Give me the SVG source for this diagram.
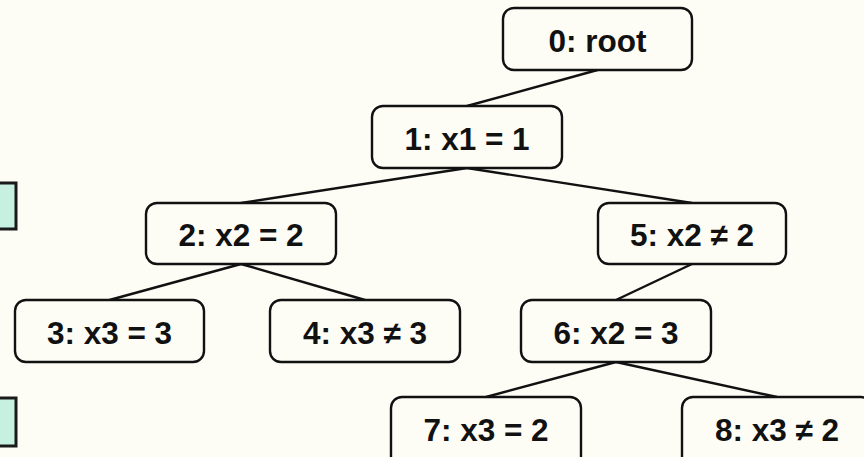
<svg xmlns="http://www.w3.org/2000/svg" width="864" height="457" viewBox="0 0 864 457">
<style>
.bg{fill:#FDFDF6}
.node rect{fill:#FDFDF6;stroke:#111;stroke-width:2.4}
.node text{font-family:"Liberation Sans",Arial,sans-serif;font-weight:bold;font-size:31.5px;fill:#111;text-anchor:middle}
.side{fill:#C6F0E0;stroke:#1a1a1a;stroke-width:3}
#connectors line{stroke:#111;stroke-width:2.4}
</style>
<rect class="bg" x="0" y="0" width="864" height="457"/>
<rect id="side1" class="side" x="-10" y="183" width="26" height="46"/>
<rect id="side2" class="side" x="-10" y="398" width="26" height="48"/>
<g id="connectors">
<line x1="597.5" y1="70" x2="467" y2="106"/>
<line x1="467" y1="168" x2="241" y2="203"/>
<line x1="467" y1="168" x2="692" y2="203"/>
<line x1="241" y1="264" x2="109.5" y2="300"/>
<line x1="241" y1="264" x2="365" y2="300"/>
<line x1="692" y1="264" x2="616" y2="300"/>
<line x1="616" y1="362" x2="486" y2="397"/>
<line x1="616" y1="362" x2="777" y2="397"/>
</g>
<g id="n0" class="node"><rect x="503" y="8" width="189" height="62" rx="11"/><text x="597.5" y="52">0: root</text></g>
<g id="n1" class="node"><rect x="372" y="106" width="190" height="62" rx="11"/><text x="467" y="150">1: x1 = 1</text></g>
<g id="n2" class="node"><rect x="146" y="203" width="190" height="61" rx="11"/><text x="241" y="246">2: x2 = 2</text></g>
<g id="n5" class="node"><rect x="598" y="203" width="188" height="61" rx="11"/><text x="692" y="246">5: x2 ≠ 2</text></g>
<g id="n3" class="node"><rect x="15" y="300" width="189" height="62" rx="11"/><text x="109.5" y="344">3: x3 = 3</text></g>
<g id="n4" class="node"><rect x="270" y="300" width="190" height="62" rx="11"/><text x="365" y="344">4: x3 ≠ 3</text></g>
<g id="n6" class="node"><rect x="521" y="300" width="190" height="62" rx="11"/><text x="616" y="344">6: x2 = 3</text></g>
<g id="n7" class="node"><rect x="391" y="397" width="190" height="72" rx="11"/><text x="486" y="441">7: x3 = 2</text></g>
<g id="n8" class="node"><rect x="682" y="397" width="190" height="72" rx="11"/><text x="777" y="441">8: x3 ≠ 2</text></g>
</svg>
